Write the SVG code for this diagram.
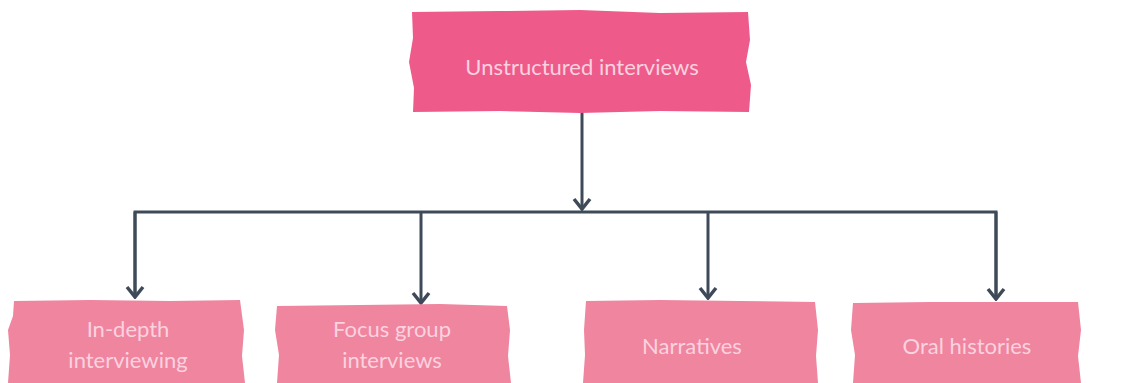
<svg xmlns="http://www.w3.org/2000/svg" width="1122" height="383" viewBox="0 0 1122 383">
<defs>
<style>
.top{fill:#ee5b8b;}
.box{fill:#f0859f;}
.lbl{font-family:Lato,"Noto Sans",sans-serif;font-size:22px;fill:#fbd2df;text-anchor:middle;}
.conn{stroke:#3f4a59;stroke-width:3;fill:none;}
</style>
<marker id="arr" viewBox="-12 -10 14 20" markerWidth="14" markerHeight="20" refX="0" refY="0" orient="auto" markerUnits="userSpaceOnUse">
<path d="M-10,-8 L0,0 L-10,8" stroke="#3f4a59" stroke-width="3.5" fill="none"/>
</marker>
</defs>
<rect width="1122" height="383" fill="#ffffff"/>
<g id="connectors">
<line class="conn" x1="582" y1="112" x2="582" y2="209" marker-end="url(#arr)"/>
<polyline class="conn" points="135,297 135,212 996,212 996,299"/>
<line class="conn" x1="135" y1="212" x2="135" y2="297" marker-end="url(#arr)"/>
<line class="conn" x1="421" y1="212" x2="421" y2="303" marker-end="url(#arr)"/>
<line class="conn" x1="708" y1="212" x2="708" y2="298" marker-end="url(#arr)"/>
<line class="conn" x1="996" y1="212" x2="996" y2="299" marker-end="url(#arr)"/>
</g>
<g id="node-unstructured">
<path class="top" d="M412,12 L500,11 L580,10 L660,13 L748,12 L750,40 L746,62 L751,85 L749,112 L660,111 L580,113 L500,111 L413,112 L414,88 L409,62 L413,38 Z"/>
<text class="lbl" x="582" y="75" font-size="24">Unstructured interviews</text>
</g>
<g id="node-indepth">
<path class="box" d="M14,301 L90,300 L170,301 L240,300 L244,330 L242,356 L245,383 L8,383 L10,355 L8,330 L13,316 Z"/>
<text class="lbl" x="128" y="337">In-depth</text>
<text class="lbl" x="128" y="368">interviewing</text>
</g>
<g id="node-focus">
<path class="box" d="M277,306 L360,305 L440,304 L507,306 L510,330 L508,356 L511,383 L277,383 L279,355 L275,330 Z"/>
<text class="lbl" x="392" y="337">Focus group</text>
<text class="lbl" x="392" y="368">interviews</text>
</g>
<g id="node-narratives">
<path class="box" d="M586,301 L660,300 L740,301 L815,302 L818,330 L816,356 L818,383 L583,383 L585,355 L584,330 Z"/>
<text class="lbl" x="692" y="354">Narratives</text>
</g>
<g id="node-oral">
<path class="box" d="M853,303 L930,302 L1010,302 L1078,302 L1081,330 L1078,356 L1081,383 L853,383 L855,355 L851,330 Z"/>
<text class="lbl" x="967" y="354">Oral histories</text>
</g>
</svg>
